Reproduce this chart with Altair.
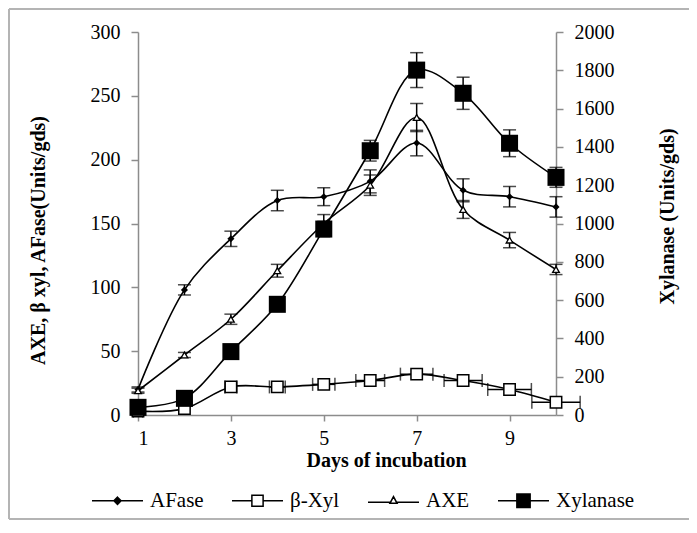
import altair as alt
import pandas as pd

# ---------------- data ----------------
days = [1, 2, 3, 4, 5, 6, 7, 8, 9, 10]

afase = [20, 98, 138, 168, 171, 183, 213, 176, 171, 163]
afase_err = [2, 4, 6, 8, 7, 9, 10, 9, 8, 8]

bxyl = [3, 5, 22, 22, 24, 27, 32, 27, 20, 10]
bxyl_xerr = [0.1, 0.1, 0.13, 0.17, 0.24, 0.31, 0.35, 0.41, 0.47, 0.52]

axe = [19, 47, 75, 113, 150, 180, 233, 161, 137, 114]
axe_err = [2, 2, 4, 5, 7, 8, 11, 7, 6, 4]

xylanase = [40, 87, 331, 578, 971, 1380, 1801, 1680, 1419, 1241]
xylanase_err = [10, 20, 20, 20, 40, 54, 91, 84, 70, 52]

series_names = ["AFase", "β-Xyl", "AXE", "Xylanase"]
x_ticks = [1, 3, 5, 7, 9]
left_ticks = [0, 50, 100, 150, 200, 250, 300]
right_ticks = [0, 200, 400, 600, 800, 1000, 1200, 1400, 1600, 1800, 2000]

# legend symbols: line + marker (custom SVG paths in [-1, 1])
legend_paths = [
    "M-1,0H1M0,-0.14L0.14,0L0,0.14L-0.14,0Z",
    "M-1,0H-0.22M0.22,0H1M-0.22,-0.22H0.22V0.22H-0.22Z",
    "M-1,0.06H-0.14M0.14,0.06H1M0,-0.16L0.14,0.1H-0.14Z",
    "M-1,0H1M-0.26,-0.26H0.26V0.26H-0.26Z",
]
legend_fills = ["black", "white", "white", "black"]
legend_strokes = ["black", "black", "black", "black"]

df_af = pd.DataFrame({"day": days, "value": afase, "err": afase_err})
df_bx = pd.DataFrame({"day": days, "value": bxyl, "xerr": bxyl_xerr})
df_axe = pd.DataFrame({"day": days, "value": axe, "err": axe_err})
df_xyl = pd.DataFrame({"day": days, "value": xylanase, "err": xylanase_err})

df_leg = pd.concat([
    pd.DataFrame({"day": days, "value": afase, "series": series_names[0]}),
    pd.DataFrame({"day": days, "value": bxyl, "series": series_names[1]}),
    pd.DataFrame({"day": days, "value": axe, "series": series_names[2]}),
    pd.DataFrame({"day": days, "value": xylanase, "series": series_names[3]}),
])

FONT = "Liberation Serif"
GRAY = "#8c8c8c"
AX = dict(labelFont=FONT, labelFontSize=20, labelColor="black",
          titleFont=FONT, titleFontSize=20, titleFontWeight="bold", titleColor="black",
          domainColor=GRAY, domainWidth=1.5, tickColor=GRAY, tickWidth=1.5, grid=False)

X = alt.X(
    "day:Q",
    scale=alt.Scale(domain=[1, 10], nice=False, zero=False),
    axis=alt.Axis(
        values=x_ticks, title="Days of incubation", format="d",
        tickSize=6, labelPadding=7, titleX=248, titleY=35,
        titleBaseline="top", **AX,
    ),
)

YL = alt.Y(
    "value:Q",
    scale=alt.Scale(domain=[0, 300], nice=False, zero=True),
    axis=alt.Axis(
        values=left_ticks, title="AXE, β xyl, AFase(Units/gds)", format="d",
        orient="left", tickSize=7, labelPadding=11,
        titleAngle=270, titleBaseline="bottom", titleX=-90, titleY=208, **AX,
    ),
)

YR = alt.Y(
    "value:Q",
    scale=alt.Scale(domain=[0, 2000], nice=False, zero=True),
    axis=alt.Axis(
        values=right_ticks, title="Xylanase (Units/gds)", format="d",
        orient="right", tickSize=7, labelPadding=11,
        titleAngle=270, titleBaseline="top", titleX=101, titleY=184, **AX,
    ),
)

LINE = dict(interpolate="catmull-rom", color="black", strokeWidth=1.6)
EBAR = dict(color="black", thickness=1.5, ticks={"size": 13, "thickness": 1.5, "color": "black"})

# outer frame (left, top and bottom edges; right edge lies beyond the picture)
one = pd.DataFrame({"f": [0]})
FR = dict(color="#b4b4b4", strokeWidth=2)
frame_left = alt.Chart(one).mark_rule(**FR).encode(
    x=alt.value(-129), y=alt.value(-23), y2=alt.value(487))
frame_top = alt.Chart(one).mark_rule(**FR).encode(
    x=alt.value(-129), x2=alt.value(570), y=alt.value(-23))
frame_bottom = alt.Chart(one).mark_rule(**FR).encode(
    x=alt.value(-129), x2=alt.value(570), y=alt.value(487))

# AFase
af_line = alt.Chart(df_af).mark_line(**LINE).encode(x=X, y=YL)
af_err = alt.Chart(df_af).mark_errorbar(**EBAR).encode(x=X, y=YL, yError="err:Q")
af_pts = alt.Chart(df_af).mark_point(
    shape="diamond", filled=True, color="black", size=50, opacity=1
).encode(x=X, y=YL)

# beta-Xyl
bx_line = alt.Chart(df_bx).mark_line(**LINE).encode(x=X, y=YL)
bx_err = alt.Chart(df_bx).mark_errorbar(**EBAR).encode(x=X, y=YL, xError="xerr:Q")
bx_pts = alt.Chart(df_bx).mark_point(
    shape="square", filled=True, fill="white", stroke="black", strokeWidth=1.5,
    size=130, opacity=1
).encode(x=X, y=YL)

# AXE
axe_line = alt.Chart(df_axe).mark_line(**LINE).encode(x=X, y=YL)
axe_err = alt.Chart(df_axe).mark_errorbar(**EBAR).encode(x=X, y=YL, yError="err:Q")
axe_pts = alt.Chart(df_axe).mark_point(
    shape="triangle-up", filled=True, fill="white", stroke="black", strokeWidth=1.3,
    size=45, opacity=1
).encode(x=X, y=YL)

# legend carrier (its rows are filtered out; legend comes from the explicit domain)
leg = alt.Chart(df_leg).transform_filter("datum.day < 0").mark_point(
    filled=True, size=2601, opacity=1, strokeWidth=1.5
).encode(
    x=X, y=YL,
    shape=alt.Shape("series:N", scale=alt.Scale(domain=series_names, range=legend_paths),
                    legend=alt.Legend(title=None)),
    fill=alt.Fill("series:N", scale=alt.Scale(domain=series_names, range=legend_fills),
                  legend=alt.Legend(title=None)),
    stroke=alt.Stroke("series:N", scale=alt.Scale(domain=series_names, range=legend_strokes),
                      legend=alt.Legend(title=None)),
)

left = alt.layer(frame_left, frame_top, frame_bottom,
                 af_line, bx_line, axe_line, af_err, bx_err, axe_err,
                 af_pts, bx_pts, axe_pts, leg)

# Xylanase (secondary axis)
xy_line = alt.Chart(df_xyl).mark_line(**LINE).encode(x=X, y=YR)
xy_err = alt.Chart(df_xyl).mark_errorbar(**EBAR).encode(x=X, y=YR, yError="err:Q")
xy_pts = alt.Chart(df_xyl).mark_point(
    shape="square", filled=True, color="black", size=290, opacity=1
).encode(x=X, y=YR)

right = alt.layer(xy_line, xy_err, xy_pts)

chart = alt.layer(left, right).resolve_scale(y="independent").properties(
    width=418, height=383,
    autosize=alt.AutoSizeParams(type="none"),
    padding={"left": 130, "top": 24, "right": 133, "bottom": 106},
).configure_view(
    strokeWidth=0
).configure_axis(
    labelFont=FONT, labelFontSize=20, labelColor="black",
    titleFont=FONT, titleFontSize=20, titleFontWeight="bold", titleColor="black",
    domainColor=GRAY, domainWidth=1.5, tickColor=GRAY, tickWidth=1.5,
).configure_legend(
    orient="none", legendX=-47, legendY=442, direction="horizontal",
    labelFont=FONT, labelFontSize=21, labelColor="black",
    symbolSize=2601, symbolStrokeWidth=1.5, symbolStrokeColor="black",
    labelOffset=6, columnPadding=25, padding=0,
)

chart.save("out.html", embed_options={"renderer": "svg", "actions": False})
